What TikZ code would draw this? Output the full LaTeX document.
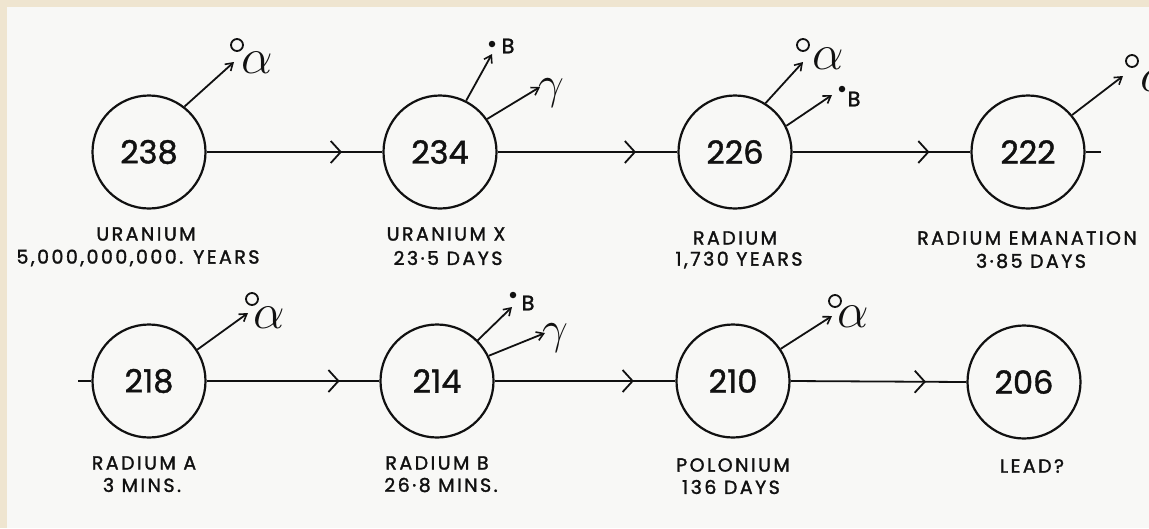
\RequirePackage{fix-cm}
\documentclass[tikz,border=0pt]{standalone}
\usepackage{fontspec}
\setmainfont{Poppins}[FakeBold=1.2]
\newfontfamily\lblfont{Poppins}[LetterSpace=13,FakeBold=1.6]
\usetikzlibrary{arrows.meta,decorations.markings}
\definecolor{paper}{HTML}{F8F8F6}
\definecolor{beige}{HTML}{EFE5D0}
\definecolor{ink}{HTML}{111111}
\begin{document}
\begin{tikzpicture}[x=1pt,y=-1pt,color=ink,
  nuc/.style={circle,draw,line width=2.2pt,minimum size=113pt,inner sep=0pt,font=\fontsize{32}{32}\selectfont},
  chain/.style={line width=1.8pt,postaction={decorate},decoration={markings,mark=at position 0.77 with {\arrow{Straight Barb[length=10pt,width=22pt,line width=1.8pt]}}}},
  stub/.style={line width=1.8pt},
  emit/.style={line width=1.8pt,-{Straight Barb[length=7pt,width=9pt,line width=1.6pt]}},
  lab/.style={font=\lblfont\fontsize{19}{19}\selectfont,inner sep=0pt},
  greek/.style={inner sep=0pt,font=\fontsize{50}{50}\selectfont},
  gam/.style={inner sep=0pt,font=\fontsize{46}{46}\selectfont},
  bsym/.style={inner sep=0pt,font=\lblfont\fontsize{21}{21}\selectfont},
  ring/.style={circle,draw,line width=1.8pt,minimum size=12pt,inner sep=0pt},
  dotm/.style={circle,fill,minimum size=6.5pt,inner sep=0pt}
]
\fill[beige] (0,0) rectangle (1149,528);
\fill[paper] (7,7) rectangle (1149,528);
\useasboundingbox (0,0) rectangle (1149,528);

% nuclei
\node[nuc] (n238) at (149,152) {238};
\node[nuc] (n234) at (440,152) {234};
\node[nuc] (n226) at (735,152) {226};
\node[nuc] (n222) at (1028,152) {222};
\node[nuc] (n218) at (149,381) {218};
\node[nuc] (n214) at (437,381) {214};
\node[nuc] (n210) at (733,381) {210};
\node[nuc] (n206) at (1024,382) {206};

% chain
\draw[chain] (n238.east) -- (n234.west);
\draw[chain] (n234.east) -- (n226.west);
\draw[chain] (n226.east) -- (n222.west);
\coordinate (s222) at (1101,152);
\draw[stub] (n222.east) -- (s222);
\coordinate (s218) at (78,381);
\draw[stub] (s218) -- (n218.west);
\draw[chain] (n218.east) -- (n214.west);
\draw[chain] (n214.east) -- (n210.west);
\draw[chain] (n210.east) -- (n206.west);

% labels
\node[lab] (l238a) at (146,234) {URANIUM};
\node[lab] (l238b) at (138,258) {5,000,000,000. YEARS};
\node[lab] (l234a) at (446,234) {URANIUM X};
\node[lab] (l234b) at (448,258) {23·5 DAYS};
\node[lab] (l226a) at (735,238) {RADIUM};
\node[lab] (l226b) at (739,260) {1,730 YEARS};
\node[lab] (l222a) at (1027,238) {RADIUM EMANATION};
\node[lab] (l222b) at (1031,261) {3·85 DAYS};
\node[lab] (l218a) at (144,463) {RADIUM A};
\node[lab] (l218b) at (142,485) {3 MINS.};
\node[lab] (l214a) at (437,463) {RADIUM B};
\node[lab] (l214b) at (441,485) {26·8 MINS.};
\node[lab] (l210a) at (733,465) {POLONIUM};
\node[lab] (l210b) at (731,487) {136 DAYS};
\node[lab] (l206a) at (1032,466) {LEAD?};

% emissions 238
\coordinate (t238) at (234,62);
\draw[emit] (n238.52) -- (t238);
\node[ring] (o238) at (237,45) {};
\node[greek] (a238) at (257,63) {$\alpha$};
% 234
\coordinate (t234b) at (492,54);
\draw[emit] (n234.63) -- (t234b);
\node[dotm] (d234) at (492,44) {};
\node[bsym] (b234) at (508,46) {B};
\coordinate (t234g) at (540,87);
\draw[emit] (n234.35) -- (t234g);
\node[gam] (g234) at (551,93) {$\gamma$};
% 226
\coordinate (t226a) at (803,62);
\draw[emit] (n226.58) -- (t226a);
\node[ring] (o226) at (803,45) {};
\node[greek] (a226) at (828,59) {$\alpha$};
\coordinate (t226b) at (832,95);
\draw[emit] (n226.27) -- (t226b);
\node[dotm] (d226) at (842,89) {};
\node[bsym] (b226) at (854,99) {B};
% 222
\coordinate (t222) at (1123,76);
\draw[emit] (n222.40) -- (t222);
\node[ring] (o222) at (1132,61) {};
\node[greek] (a222) at (1156,81) {$\alpha$};
% 218
\coordinate (t218) at (248,313);
\draw[emit] (n218.33) -- (t218);
\node[ring] (o218) at (252,299) {};
\node[greek] (a218) at (269,318) {$\alpha$};
% 214
\coordinate (t214b) at (512,307);
\draw[emit] (n214.45) -- (t214b);
\node[dotm] (d214) at (513,295) {};
\node[bsym] (b214) at (528,303) {B};
\coordinate (t214g) at (545,333);
\draw[emit] (n214.26) -- (t214g);
\node[gam] (g214) at (555,338) {$\gamma$};
% 210
\coordinate (t210) at (832,316);
\draw[emit] (n210.34) -- (t210);
\node[ring] (o210) at (835,301) {};
\node[greek] (a210) at (853,317) {$\alpha$};
\end{tikzpicture}
\end{document}
